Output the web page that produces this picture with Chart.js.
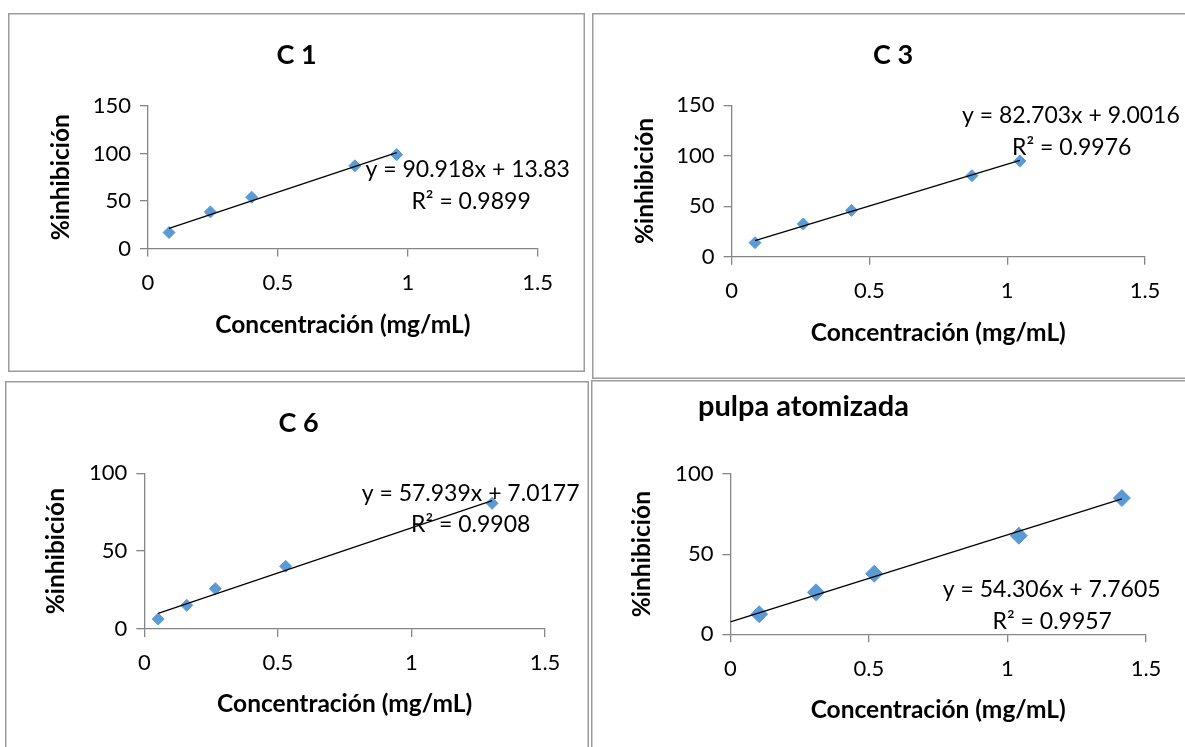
<!DOCTYPE html>
<html>
<head>
<meta charset="utf-8">
<script src="https://cdn.jsdelivr.net/npm/chart.js@4.4.1/dist/chart.umd.min.js"></script>
<style>
  body { margin: 0; background: #fff; width: 1185px; height: 747px; overflow: hidden; position: relative; }
  .caja { position: absolute; box-shadow: inset 0 0 0 1.5px #9c9c9c; }
  .caja canvas { position: absolute; left: 0; top: 0; }
</style>
</head>
<body>
<div class="caja" style="left:8px;top:13px;width:577px;height:359px"><canvas id="g_c1" width="577" height="359"></canvas></div>
<div class="caja" style="left:592px;top:13px;width:602px;height:366px"><canvas id="g_c3" width="602" height="366"></canvas></div>
<div class="caja" style="left:5px;top:381px;width:584px;height:372px"><canvas id="g_c6" width="584" height="372"></canvas></div>
<div class="caja" style="left:591px;top:380px;width:602px;height:372px"><canvas id="g_pulpa" width="602" height="372"></canvas></div>
<script>
// datos
const titulos = ['C 1', 'C 3', 'C 6', 'pulpa atomizada']
const conc_c1 = [0.081, 0.24, 0.399, 0.796, 0.957]
const inh_c1 = [16.8, 38.5, 54, 87, 98.8]
const conc_c3 = [0.085, 0.26, 0.435, 0.872, 1.046]
const inh_c3 = [13.9, 32.4, 45.9, 80.3, 94.8]
const conc_c6 = [0.052, 0.159, 0.266, 0.529, 1.302]
const inh_c6 = [6.4, 15.2, 25.9, 40.3, 80.7]
const conc_pulpa = [0.104, 0.309, 0.519, 1.041, 1.413]
const inh_pulpa = [12.5, 26.2, 37.8, 61.5, 85.0]

// lineas de tendencia (ecuaciones del grafico)
const pendiente = [90.918, 82.703, 57.939, 54.306]
const intercepto = [13.83, 9.0016, 7.0177, 7.7605]
const r_cuadrado = [0.9899, 0.9976, 0.9908, 0.9957]
const tendencia_desde = [0.081, 0.085, 0.052, 0]
const tendencia_hasta = [0.957, 1.046, 1.302, 1.413]

const ticks_x = [0, 0.5, 1, 1.5]
const ticks_y_150 = [0, 50, 100, 150]
const ticks_y_100 = [0, 50, 100]

const fuente = 'Lato, "Open Sans", sans-serif'
const azul = '#5b9bd5'
const gris = '#868686'
const TAM_TITULO_EJE = 24.5
const TAM_TICKS = 22

// dibuja titulo y ecuacion
const etiquetas = {
    id: 'etiquetas',
    afterDraw(chart, args, op) {
        const ctx = chart.ctx
        ctx.save()
        ctx.fillStyle = '#000'
        ctx.textBaseline = 'middle'
        ctx.font = 'bold ' + op.tamTitulo + 'px ' + fuente
        ctx.textAlign = op.alinTitulo
        ctx.fillText(op.titulo, op.tituloX, op.tituloY)
        ctx.font = '23px ' + fuente
        ctx.textAlign = 'left'
        ctx.fillText(op.ecuacion, op.ecX, op.ecY)
        ctx.fillText(op.r2, op.r2X, op.r2Y)
        ctx.restore()
    }
}

function grafico(id, i, conc, inh, ticks_y, maxY, radio, caja) {
    const lh = TAM_TITULO_EJE * 1.2
    const pad = {
        left: caja.yTitX - lh / 2,
        right: caja.w - caja.r,
        top: caja.t,
        bottom: caja.h - caja.xTitY - lh / 2
    }
    const puntos = conc.map((x, k) => ({ x: x, y: inh[k] }))
    const tendencia = [tendencia_desde[i], tendencia_hasta[i]].map(x => ({ x: x, y: pendiente[i] * x + intercepto[i] }))

    return new Chart(document.getElementById(id).getContext('2d'), {
        type: 'scatter',
        data: {
            datasets: [{
                type: 'line',
                data: tendencia,
                showLine: true,
                borderColor: '#000',
                borderWidth: 1.3,
                pointRadius: 0
            }, {
                data: puntos,
                pointStyle: 'rectRot',
                pointRadius: radio,
                pointHoverRadius: radio,
                backgroundColor: azul,
                borderColor: azul,
                borderWidth: 1
            }]
        },
        options: {
            responsive: false,
            animation: false,
            events: [],
            layout: { padding: pad },
            plugins: {
                legend: { display: false },
                tooltip: { enabled: false },
                etiquetas: {
                    titulo: titulos[i],
                    tamTitulo: caja.tamTitulo || 27,
                    alinTitulo: caja.alinTitulo || 'center',
                    tituloX: caja.titX, tituloY: caja.titY,
                    ecuacion: 'y = ' + pendiente[i] + 'x + ' + intercepto[i],
                    ecX: caja.ecX, ecY: caja.ecY,
                    r2: 'R² = ' + r_cuadrado[i],
                    r2X: caja.r2X, r2Y: caja.r2Y
                }
            },
            scales: {
                x: {
                    type: 'linear',
                    min: 0, max: 1.5,
                    afterBuildTicks: s => { s.ticks = ticks_x.map(v => ({ value: v })) },
                    afterFit: s => { s.height = (caja.h - pad.bottom) - caja.b },
                    border: { color: gris, width: 1.3 },
                    grid: { drawOnChartArea: false, tickLength: 8, color: gris, lineWidth: 1.3 },
                    ticks: { color: '#000', padding: 13, font: { family: fuente, size: TAM_TICKS }, callback: v => String(v) },
                    title: {
                        display: true, text: 'Concentración (mg/mL)', color: '#000', padding: 0,
                        font: { family: fuente, size: TAM_TITULO_EJE, weight: 'bold', lineHeight: 1.2 }
                    }
                },
                y: {
                    type: 'linear',
                    min: 0, max: maxY,
                    afterBuildTicks: s => { s.ticks = ticks_y.map(v => ({ value: v })) },
                    afterFit: s => { s.width = caja.l - pad.left },
                    border: { color: gris, width: 1.3 },
                    grid: { drawOnChartArea: false, tickLength: 8, color: gris, lineWidth: 1.3 },
                    ticks: { color: '#000', padding: 9, font: { family: fuente, size: TAM_TICKS }, callback: v => String(v) },
                    title: {
                        display: true, text: '%inhibición', color: '#000', padding: 0,
                        font: { family: fuente, size: TAM_TITULO_EJE, weight: 'bold', lineHeight: 1.2 }
                    }
                }
            }
        },
        plugins: [etiquetas]
    })
}

grafico('g_c1', 0, conc_c1, inh_c1, ticks_y_150, 150, 6, {
    w: 577, h: 359, l: 140, t: 93, r: 529.7, b: 235.5, yTitX: 53, xTitY: 312,
    titX: 288.6, titY: 42, ecX: 357.5, ecY: 157, r2X: 403.4, r2Y: 188.7
})
grafico('g_c3', 1, conc_c3, inh_c3, ticks_y_150, 150, 6, {
    w: 602, h: 366, l: 139.6, t: 92.3, r: 553, b: 243.7, yTitX: 53, xTitY: 319.7,
    titX: 301, titY: 42, ecX: 370, ecY: 102.7, r2X: 420, r2Y: 135
})
grafico('g_c6', 2, conc_c6, inh_c6, ticks_y_100, 100, 6, {
    w: 584, h: 372, l: 139.3, t: 92.3, r: 540, b: 248, yTitX: 51.5, xTitY: 323.3,
    titX: 293.5, titY: 42, ecX: 356.7, ecY: 112.3, r2X: 406, r2Y: 144
})
grafico('g_pulpa', 3, conc_pulpa, inh_pulpa, ticks_y_100, 100, 8.5, {
    w: 602, h: 372, l: 139.4, t: 94, r: 555, b: 254.3, yTitX: 51.5, xTitY: 330,
    titX: 107, titY: 26.7, tamTitulo: 29, alinTitulo: 'left', ecX: 351.8, ecY: 210, r2X: 401.6, r2Y: 241.7
})
</script>
</body>
</html>
